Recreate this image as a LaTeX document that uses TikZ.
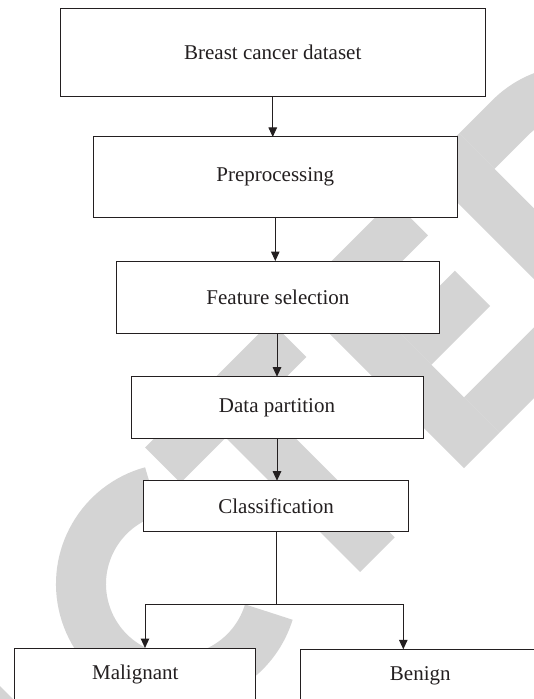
\documentclass[tikz,border=0pt]{standalone}
\usepackage{fontspec}
\setmainfont{Liberation Serif}
\usepackage{xcolor}
\usepackage{tikz}
\usetikzlibrary{arrows.meta}

\definecolor{inkline}{RGB}{35,31,32}
\definecolor{stamp}{RGB}{212,212,212}
\tikzset{
  stepbox/.style={draw=inkline,fill=white,line width=1pt,inner sep=0pt,outer sep=0pt,text=inkline,font=\fontsize{21}{25.2}\selectfont},
  endbox/.style={stepbox,anchor=base,text height=31pt,text depth=45pt},
  flow/.style={draw=inkline,line width=1pt,-{Triangle[length=9.5pt,width=8.5pt]}},
  link/.style={draw=inkline,line width=1pt},
}

\begin{document}
\begin{tikzpicture}[x=1pt,y=-1pt]
\path[use as bounding box] (0,0) rectangle (534,699);
\clip (0,0) rectangle (534,699);
\path[fill=white,draw=none] (0,0) rectangle (534,699);
% grey stamp behind the chart
\fill[stamp] (0,686) -- (13,699) -- (0,699) -- cycle;
\draw[stamp,line width=50pt] (177,584) ++(-105:96) arc[start angle=-105,end angle=-343,radius=96];
\begin{scope}[shift={(464,468)},rotate=45]
\fill[stamp] (-211,-240) rectangle (-33,-190);
\fill[stamp] (-147,-190) rectangle (-98,0);
\fill[stamp] (0,-240) rectangle (50,0);
\fill[stamp] (50,-240) rectangle (139,-190);
\fill[stamp] (50,-146) rectangle (133,-96);
\fill[stamp] (50,-50) rectangle (150,0);
\fill[stamp] (183,-240) rectangle (233,0);
\fill[stamp] (233,-240) -- (280,-240) arc[start angle=-90,end angle=90,radius=120] -- (233,0) -- (233,-50) -- (280,-50) arc[start angle=90,end angle=-90,radius=70] -- (233,-190) -- cycle;
\end{scope}
% chart
\node[stepbox,minimum width=425.3pt,minimum height=88.3pt] (data) at (272.75,52.2) {Breast cancer dataset};
\node[stepbox,minimum width=363.8pt,minimum height=80.7pt] (prep) at (275.3,177.3) {Preprocessing};
\node[stepbox,minimum width=322.4pt,minimum height=72pt] (feat) at (277.9,297) {Feature selection};
\node[stepbox,minimum width=292pt,minimum height=62pt] (part) at (277,407.7) {Data partition};
\node[stepbox,minimum width=264.7pt,minimum height=51pt] (clas) at (276.1,506.2) {Classification};
\node[endbox,minimum width=241.3pt] (mal) at (135.25,679) {Malignant};
\node[endbox,minimum width=259.8pt] (ben) at (430.1,680.3) {\hspace*{-19.6pt}Benign};
\draw[flow] (data.south) -- (data.south |- prep.north);
\draw[flow] (prep.south) -- (prep.south |- feat.north);
\draw[flow] (part.north |- feat.south) -- (part.north);
\draw[flow] (part.south) -- (part.south |- clas.north);
\coordinate (fork) at (276.1,604);
\coordinate (forkl) at (145,604);
\coordinate (forkr) at (403.3,604);
\draw[link] (clas.south) -- (fork);
\draw[flow] (fork) -- (forkl) -- (forkl |- mal.north);
\draw[flow] (fork) -- (forkr) -- (forkr |- ben.north);
\end{tikzpicture}
\end{document}
